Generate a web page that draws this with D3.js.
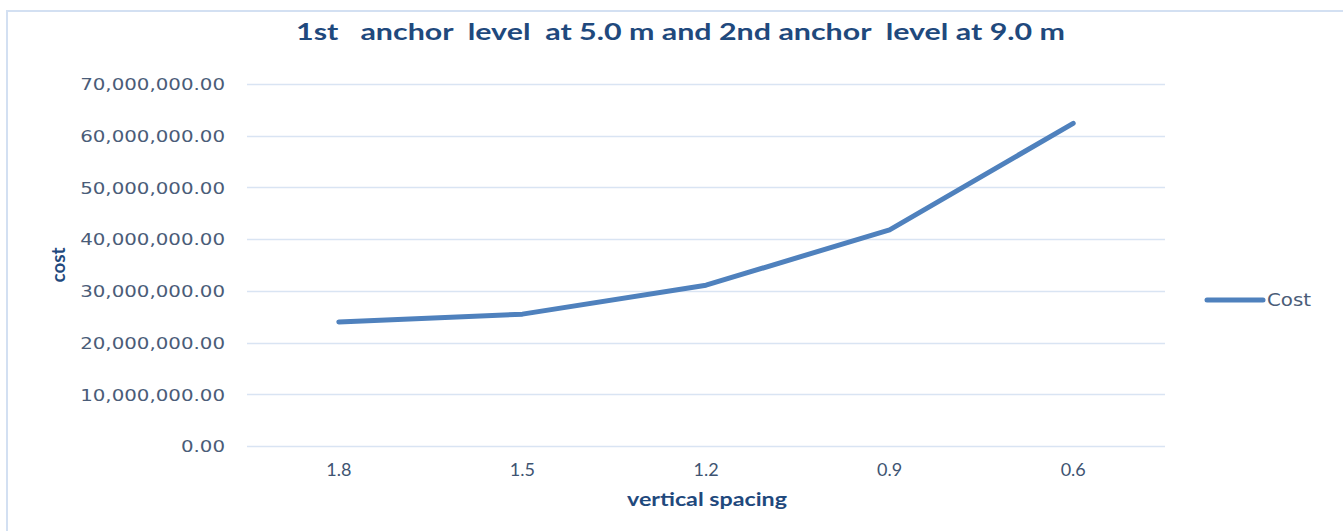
<!DOCTYPE html>
<html><head><meta charset="utf-8">
<script src="https://cdn.jsdelivr.net/npm/d3@7"></script>
<style>html,body{margin:0;padding:0;background:#fff;}svg{display:block;}</style>
</head><body>
<script>
const categories = ["1.8", "1.5", "1.2", "0.9", "0.6"];
const costValues = [24000000, 25500000, 31100000, 41800000, 62400000];
const yTicks = [0, 10000000, 20000000, 30000000, 40000000, 50000000, 60000000, 70000000];
const seriesName = "Cost";
const titleText = "1st   anchor  level  at 5.0 m and 2nd anchor  level at 9.0 m";

(function () {
const W = 1343, H = 531;
const svg = d3.select("body").append("svg").attr("width", W).attr("height", H);

// frame
svg.append("rect").attr("x", 7).attr("y", 11).attr("width", W + 10).attr("height", H + 10)
  .attr("fill", "none").attr("stroke", "#D3E0F2").attr("stroke-width", 2);

const pLeft = 247, pRight = 1165, pTop = 84, pBottom = 446;
const x = d3.scaleBand().domain(categories).range([pLeft, pRight]);
const y = d3.scaleLinear().domain([0, 70000000]).range([pBottom, pTop]);

// grid
svg.append("g").selectAll("line").data(yTicks).join("line")
  .attr("x1", pLeft).attr("x2", pRight)
  .attr("y1", d => Math.round(y(d)) + 0.5).attr("y2", d => Math.round(y(d)) + 0.5)
  .attr("stroke", "#D9E4F3").attr("stroke-width", 1.5);

// y axis labels
const yAxis = d3.axisLeft(y).tickValues(yTicks).tickSize(0).tickPadding(0)
  .tickFormat(d => d3.format(",.2f")(d));
const gy = svg.append("g").attr("transform", `translate(225,0) scale(1.2,1)`).call(yAxis);
gy.select(".domain").remove();
gy.selectAll("text").attr("font-family", "'DejaVu Sans', Verdana, sans-serif")
  .attr("font-size", 16.5).attr("fill", "#4A5C78").attr("dy", "0.35em");

// x axis labels
const xAxis = d3.axisBottom(x).tickSize(0).tickPadding(0);
const gx = svg.append("g").attr("transform", `translate(0,463)`).call(xAxis);
gx.select(".domain").remove();
gx.selectAll("text").attr("font-family", "Lato, 'Open Sans', sans-serif")
  .attr("font-size", 18).attr("fill", "#3E5472").attr("dy", "0.71em");

// line
const line = d3.line().x((d, i) => x(categories[i]) + x.bandwidth() / 2).y(d => y(d));
svg.append("path").datum(costValues).attr("d", line)
  .attr("fill", "none").attr("stroke", "#4F81BD").attr("stroke-width", 5)
  .attr("stroke-linecap", "round").attr("stroke-linejoin", "round");

// title
svg.append("text").attr("x", 296).attr("y", 40).text(titleText)
  .attr("font-family", "Lato, 'Open Sans', sans-serif").attr("font-weight", "bold")
  .attr("font-size", 23).attr("fill", "#1F497D")
  .attr("textLength", 769).attr("lengthAdjust", "spacingAndGlyphs")
  .style("white-space", "pre");

// axis titles
svg.append("text").attr("transform", "translate(65,265) rotate(-90)").attr("text-anchor", "middle")
  .text("cost").attr("font-family", "Lato, 'Open Sans', sans-serif").attr("font-weight", "bold")
  .attr("font-size", 18).attr("fill", "#1F497D")
  .attr("textLength", 35).attr("lengthAdjust", "spacingAndGlyphs");
svg.append("text").attr("x", 707).attr("y", 506).attr("text-anchor", "middle")
  .text("vertical spacing").attr("font-family", "Lato, 'Open Sans', sans-serif").attr("font-weight", "bold")
  .attr("font-size", 18).attr("fill", "#1F497D")
  .attr("textLength", 160).attr("lengthAdjust", "spacingAndGlyphs");

// legend
svg.append("line").attr("x1", 1207).attr("x2", 1263).attr("y1", 300).attr("y2", 300)
  .attr("stroke", "#4F81BD").attr("stroke-width", 5).attr("stroke-linecap", "round");
svg.append("text").attr("x", 1267).attr("y", 300).attr("dy", "0.35em").text(seriesName)
  .attr("font-family", "'DejaVu Sans', Verdana, sans-serif").attr("font-size", 17)
  .attr("fill", "#4A5C78")
  .attr("textLength", 44).attr("lengthAdjust", "spacingAndGlyphs");
})();
</script>
</body></html>
